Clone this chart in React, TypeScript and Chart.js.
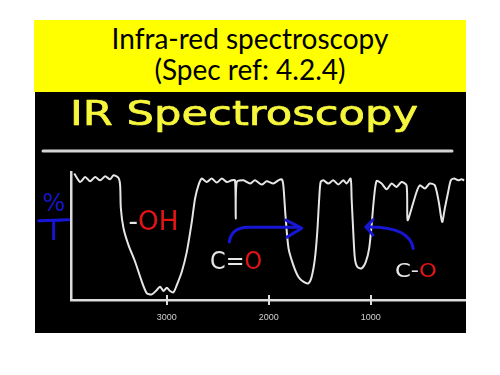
import React, { useEffect, useRef } from "react";
import { Chart, registerables } from "chart.js";

Chart.register(...registerables);

// ---- Text ----
const TITLE_LINES = ["Infra-red spectroscopy", "(Spec ref: 4.2.4)"];
const HEADING = "IR Spectroscopy";

// ---- Spectrum (wavenumber, cm-1 / %T) ----
const WAVENUMBERS = [
  3908, 3850, 3801, 3752, 3703, 3654, 3605, 3556, 3523, 3474, 3458, 3451, 3425,
  3376, 3311, 3245, 3196, 3147, 3098, 3066, 3033, 3000, 2968, 2935, 2902, 2853,
  2804, 2755, 2723, 2690, 2657, 2608, 2559, 2510, 2461, 2412, 2363, 2331, 2324,
  2314, 2249, 2184, 2135, 2069, 2020, 1955, 1906, 1873, 1857, 1836, 1806, 1759,
  1710, 1661, 1612, 1579, 1547, 1524, 1505, 1491, 1465, 1416, 1367, 1318, 1269,
  1236, 1197, 1187, 1171, 1155, 1132, 1089, 1047, 1015, 991, 968, 942, 893, 844,
  795, 746, 697, 648, 638, 599, 550, 518, 469, 420, 371, 332, 299, 273, 240, 214,
  182, 142, 109, 83,
];
const TRANSMITTANCE = [
  98.8, 92.2, 96.1, 92.7, 96.1, 93.5, 96.6, 94.3, 97.4, 95.3, 89.6, 71.7, 56.1,
  42.9, 29.9, 14.3, 5.2, 4.4, 7.8, 10.4, 7.0, 9.6, 7.0, 6.0, 11.7, 22.1,
  37.6, 61.0, 79.3, 89.6, 94.9, 92.2, 94.9, 91.7, 94.9, 92.2, 93.5, 93.5, 63.7,
  92.2, 93.5, 91.0, 93.5, 90.2, 92.7, 91.0, 93.5, 94.3, 89.6, 66.2, 40.3, 27.3,
  18.2, 14.3, 13.0, 18.2, 32.5, 53.2, 79.3, 92.2, 93.5, 91.0, 93.5, 90.2, 93.5,
  91.0, 94.9, 79.3, 53.2, 32.5, 26.0, 24.7, 29.9, 40.3, 58.5, 79.3, 93.0, 91.0, 86.5,
  91.0, 88.3, 92.2, 89.6, 62.4, 71.5, 84.4, 89.6, 87.1, 91.0, 89.6, 76.6, 61.0, 71.5, 84.4, 93.5,
  94.9, 93.5, 94.3, 93.5,
];

// ---- Axes ----
const X_TICKS = [3000, 2000, 1000];
const X_MIN = 65;
const X_MAX = 3940;
const Y_MIN = 0;
const Y_MAX = 100;

// ---- Annotations (anchored in data units) ----
const AXIS_LABEL_TOP = "%";
const AXIS_LABEL_BOTTOM = "T";
const AXIS_LABEL_WN = 4110; // horizontal centre
const AXIS_LABEL_BAR_T = 62.7; // fraction bar level

const BAND_LABELS = [
  { white: "-", red: "OH", wn: 3376, t: 54.9 },
  { white: "C=", red: "O", wn: 2576, t: 24.2 },
  { white: "C-", red: "O", wn: 762, t: 18.3 },
];
const BAND_STYLE = [
  { size: 27, width: 50 },
  { size: 25, width: 52 },
  { size: 19, width: 42 },
];

const ARROW_RIGHT = {
  start: [2387, 45.4],
  ctrl: [2370, 56.5],
  mid: [2203, 56.9],
  end: [1694, 56.9],
  tip: [1677, 56.1],
  arm1: [1831, 62.4],
  arm2: [1821, 49.1],
};
const ARROW_LEFT = {
  tip: [1046, 57.1],
  ctrl: [615, 57.7],
  end: [583, 40.3],
  arm1: [977, 62.7],
  arm2: [977, 50.7],
};

const WHITE = "#e6e6e6";
const RED = "#e41414";
const BLUE = "#1616d4";
const YELLOW_TEXT = "#f6f63c";

const slidePlugin = {
  id: "slide",
  afterDraw(chart: any) {
    const { ctx } = chart;
    const xs = chart.scales.x;
    const ys = chart.scales.y;
    const px = (v: number) => xs.getPixelForValue(v);
    const py = (v: number) => ys.getPixelForValue(v);
    const P = (p: number[]) => [px(p[0]), py(p[1])] as [number, number];

    ctx.save();

    // Heading
    ctx.font = '34px "DejaVu Sans"';
    const hw = ctx.measureText(HEADING).width;
    ctx.save();
    ctx.translate(35, 33);
    ctx.scale(348 / hw, 1);
    ctx.fillStyle = YELLOW_TEXT;
    ctx.strokeStyle = YELLOW_TEXT;
    ctx.lineWidth = 0.7;
    ctx.lineJoin = "round";
    ctx.textBaseline = "alphabetic";
    ctx.fillText(HEADING, 0, 0);
    ctx.strokeText(HEADING, 0, 0);
    ctx.restore();

    // underline
    ctx.strokeStyle = "#d4d4d4";
    ctx.lineWidth = 3;
    ctx.lineCap = "round";
    ctx.beginPath();
    ctx.moveTo(8, 59);
    ctx.lineTo(417, 59);
    ctx.stroke();

    // tick marks crossing the x axis
    const axisY = ys.bottom;
    ctx.strokeStyle = "#dcdcdc";
    ctx.lineWidth = 2;
    ctx.lineCap = "butt";
    X_TICKS.forEach((v) => {
      const x = Math.round(px(v));
      ctx.beginPath();
      ctx.moveTo(x, axisY - 5);
      ctx.lineTo(x, axisY + 5);
      ctx.stroke();
    });

    // %T axis label
    const cx = px(AXIS_LABEL_WN);
    const barY = py(AXIS_LABEL_BAR_T);
    ctx.fillStyle = BLUE;
    ctx.textAlign = "center";
    ctx.textBaseline = "alphabetic";
    ctx.font = '24px "DejaVu Sans"';
    ctx.fillText(AXIS_LABEL_TOP, cx, barY - 9);
    ctx.font = '29px "DejaVu Sans"';
    ctx.fillText(AXIS_LABEL_BOTTOM, cx, barY + 20);
    ctx.strokeStyle = BLUE;
    ctx.lineWidth = 3;
    ctx.lineCap = "round";
    ctx.beginPath();
    ctx.moveTo(cx - 15, barY + 1);
    ctx.lineTo(cx + 15, barY);
    ctx.stroke();

    // band labels
    ctx.textAlign = "left";
    BAND_LABELS.forEach((b, i) => {
      const st = BAND_STYLE[i];
      ctx.font = `${st.size}px "DejaVu Sans"`;
      const w1 = ctx.measureText(b.white).width;
      const w2 = ctx.measureText(b.red).width;
      const s = st.width / (w1 + w2);
      ctx.save();
      ctx.translate(px(b.wn), py(b.t));
      ctx.scale(s, 1);
      ctx.fillStyle = WHITE;
      ctx.fillText(b.white, 0, 0);
      ctx.fillStyle = RED;
      ctx.fillText(b.red, w1, 0);
      ctx.restore();
    });

    // arrows
    ctx.strokeStyle = BLUE;
    ctx.lineWidth = 3;
    ctx.lineCap = "round";
    ctx.lineJoin = "round";
    const a = ARROW_RIGHT;
    ctx.beginPath();
    ctx.moveTo(...P(a.start));
    ctx.quadraticCurveTo(...P(a.ctrl), ...P(a.mid));
    ctx.lineTo(...P(a.end));
    ctx.stroke();
    ctx.beginPath();
    ctx.moveTo(...P(a.arm1));
    ctx.lineTo(...P(a.tip));
    ctx.lineTo(...P(a.arm2));
    ctx.stroke();

    const b = ARROW_LEFT;
    ctx.beginPath();
    ctx.moveTo(...P(b.tip));
    ctx.quadraticCurveTo(...P(b.ctrl), ...P(b.end));
    ctx.stroke();
    ctx.beginPath();
    ctx.moveTo(...P(b.arm1));
    ctx.lineTo(...P(b.tip));
    ctx.lineTo(...P(b.arm2));
    ctx.stroke();

    ctx.restore();
  },
};

export default function App() {
  const ref = useRef<HTMLCanvasElement>(null);

  useEffect(() => {
    if (!ref.current) return;
    const chart = new Chart(ref.current, {
      type: "line",
      data: {
        datasets: [
          {
            data: WAVENUMBERS.map((w, i) => ({ x: w, y: TRANSMITTANCE[i] })),
            borderColor: WHITE,
            borderWidth: 2,
            pointRadius: 0,
            tension: 0.25,
            fill: false,
          },
        ],
      },
      options: {
        responsive: false,
        animation: false,
        events: [],
        layout: { padding: { top: 80, left: 0, right: 0, bottom: 0 }, autoPadding: false },
        plugins: {
          legend: { display: false },
          tooltip: { enabled: false },
          title: { display: false },
        },
        scales: {
          x: {
            type: "linear",
            reverse: true,
            min: X_MIN,
            max: X_MAX,
            afterBuildTicks: (s: any) => {
              s.ticks = X_TICKS.map((v) => ({ value: v }));
            },
            afterFit: (s: any) => {
              s.height = 33;
            },
            grid: { display: false, drawTicks: false },
            border: { display: true, color: "#dcdcdc", width: 2.5 },
            ticks: {
              color: "#cfcfcf",
              font: { family: "Liberation Sans", size: 9 },
              padding: 12,
              maxRotation: 0,
              autoSkip: false,
              callback: (v: any) => String(v),
            },
          },
          y: {
            type: "linear",
            min: Y_MIN,
            max: Y_MAX,
            afterFit: (s: any) => {
              s.width = 36;
            },
            grid: { display: false, drawTicks: false },
            border: { display: true, color: "#dcdcdc", width: 2.5 },
            ticks: { display: false },
          },
        },
      },
      plugins: [slidePlugin],
    } as any);
    return () => chart.destroy();
  }, []);

  return (
    <div style={{ position: "absolute", left: 0, top: 0, width: 500, height: 375, background: "#fff" }}>
      <div
        style={{
          position: "absolute",
          left: 34,
          top: 20,
          width: 432,
          height: 72,
          background: "#ffff00",
        }}
      >
        {TITLE_LINES.map((line, i) => (
          <div
            key={i}
            style={{
              position: "absolute",
              left: 0,
              width: 432,
              top: 2.5 + i * 31,
              height: 31,
              lineHeight: "31px",
              textAlign: "center",
              fontFamily: "Lato, 'Open Sans', sans-serif",
              fontSize: 28,
              color: "#000",
              whiteSpace: "nowrap",
            }}
          >
            {line}
          </div>
        ))}
      </div>
      <div
        style={{
          position: "absolute",
          left: 35,
          top: 92,
          width: 431,
          height: 241,
          background: "#000",
        }}
      >
        <canvas ref={ref} width={431} height={241} style={{ display: "block" }} />
      </div>
    </div>
  );
}
